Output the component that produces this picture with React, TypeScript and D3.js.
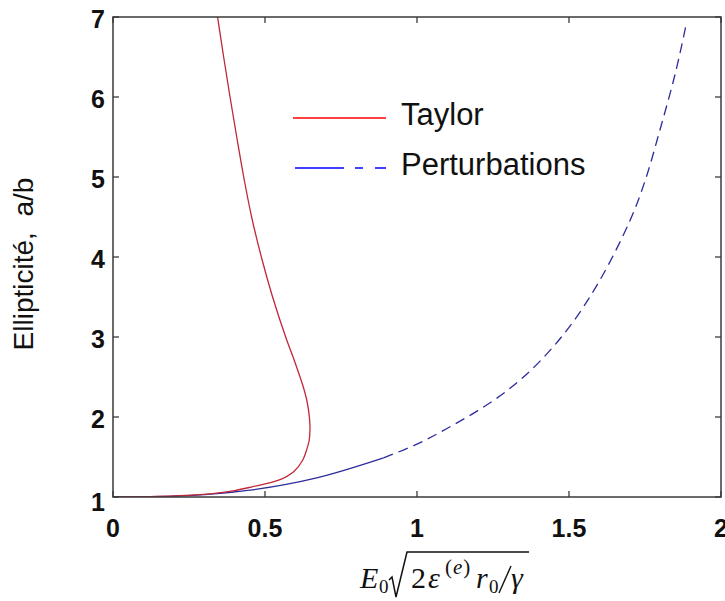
import React from "react";
import * as d3 from "d3";

const taylorX = [0, 0.2, 0.32, 0.4, 0.46, 0.545, 0.595, 0.624, 0.637, 0.645, 0.648, 0.646, 0.638, 0.624, 0.597, 0.568, 0.525, 0.488, 0.456, 0.43, 0.407, 0.385, 0.364, 0.344];
const taylorY = [1, 1.015, 1.04, 1.08, 1.13, 1.21, 1.32, 1.46, 1.59, 1.7, 1.84, 2.0, 2.2, 2.4, 2.7, 3.0, 3.5, 4.0, 4.5, 5.0, 5.5, 6.0, 6.5, 7.0];

const pertX = [0, 0.2, 0.3, 0.45, 0.67, 0.89, 1.0, 1.1, 1.2, 1.3, 1.4, 1.5, 1.6, 1.7, 1.75, 1.8, 1.85, 1.885];
const pertY = [1, 1.01, 1.03, 1.085, 1.24, 1.49, 1.66, 1.86, 2.08, 2.34, 2.68, 3.12, 3.7, 4.45, 4.95, 5.6, 6.3, 6.9];
const pertSolidEnd = 0.89;

const xTicks = [0, 0.5, 1, 1.5, 2];
const xTickLabels = ["0", "0.5", "1", "1.5", "2"];
const yTicks = [1, 2, 3, 4, 5, 6, 7];
const yTickLabels = ["1", "2", "3", "4", "5", "6", "7"];

const seriesNames = ["Taylor", "Perturbations"];

export default function App() {
  const W = 725, H = 601;
  const left = 113, right = 721, top = 17, bottom = 497;
  const x = d3.scaleLinear().domain([0, 2]).range([left, right]);
  const y = d3.scaleLinear().domain([1, 7]).range([bottom, top]);

  const taylorPts = taylorX.map((v, i) => [v, taylorY[i]] as [number, number]);
  const pertPts = pertX.map((v, i) => [v, pertY[i]] as [number, number]);
  const solidPts = pertPts.filter((p) => p[0] <= pertSolidEnd);
  const dashPts = pertPts.filter((p) => p[0] >= pertSolidEnd);

  const line = d3
    .line<[number, number]>()
    .x((d) => x(d[0]))
    .y((d) => y(d[1]))
    .curve(d3.curveCatmullRom.alpha(0.5));

  const tickLen = 6;
  const axisColor = "#3a3a3a";
  const sans = "'Liberation Sans', Arial, sans-serif";
  const serif = "'Liberation Serif', 'Times New Roman', serif";

  return (
    <svg
      width={W}
      height={H}
      style={{ position: "absolute", left: 0, top: 0, background: "#fff" }}
    >
      <rect x={0} y={0} width={W} height={H} fill="#fff" />
      <defs>
        <clipPath id="plotclip">
          <rect x={left} y={top} width={right - left} height={bottom - top} />
        </clipPath>
      </defs>

      {/* curves */}
      <g clipPath="url(#plotclip)" fill="none">
        <path d={line(solidPts) || ""} stroke="#2c2c9c" strokeWidth={1.3} />
        <path d={line(dashPts) || ""} stroke="#2c2c9c" strokeWidth={1.3} strokeDasharray="10,6" />
        <path d={line(taylorPts) || ""} stroke="#c02838" strokeWidth={1.3} />
      </g>

      {/* axes box */}
      <rect x={left} y={top} width={right - left} height={bottom - top} fill="none" stroke={axisColor} strokeWidth={1.5} />

      {/* x ticks */}
      {xTicks.map((t, i) => (
        <g key={"xt" + i}>
          <line x1={x(t)} x2={x(t)} y1={bottom} y2={bottom - tickLen} stroke={axisColor} strokeWidth={1.3} />
          <line x1={x(t)} x2={x(t)} y1={top} y2={top + tickLen} stroke={axisColor} strokeWidth={1.3} />
          <text
            x={x(t)}
            y={537}
            textAnchor="middle"
            fontFamily={sans}
            fontWeight="bold"
            fontSize={25}
            fill="#111"
          >
            {xTickLabels[i]}
          </text>
        </g>
      ))}

      {/* y ticks */}
      {yTicks.map((t, i) => (
        <g key={"yt" + i}>
          <line x1={left} x2={left + tickLen} y1={y(t)} y2={y(t)} stroke={axisColor} strokeWidth={1.3} />
          <line x1={right} x2={right - tickLen} y1={y(t)} y2={y(t)} stroke={axisColor} strokeWidth={1.3} />
          <text
            x={105}
            y={y(t) + (t === 1 ? 14 : 11)}
            textAnchor="end"
            fontFamily={sans}
            fontWeight="bold"
            fontSize={25}
            fill="#111"
          >
            {yTickLabels[i]}
          </text>
        </g>
      ))}

      {/* y label */}
      <text
        transform="translate(33,264) rotate(-90)"
        textAnchor="middle"
        fontFamily={sans}
        fontSize={28}
        fill="#111"
        style={{ whiteSpace: "pre" }}
      >
        {"Ellipticité,  a/b"}
      </text>

      {/* x label formula */}
      <g fontFamily={serif} fill="#111">
        <text x={360} y={588} fontSize={30} fontStyle="italic">E</text>
        <text x={379} y={593} fontSize={19}>0</text>
        <path d="M389,580 L392,577 L396,597 L407,552 L529,552" fill="none" stroke="#111" strokeWidth={1.5} />
        <text x={411} y={588} fontSize={30}>2</text>
        <text x={428} y={588} fontSize={30} fontStyle="italic">ε</text>
        <text x={445} y={574} fontSize={21} letterSpacing={1}>
          (<tspan fontStyle="italic">e</tspan>)
        </text>
        <text x={476} y={588} fontSize={30} fontStyle="italic">r</text>
        <text x={489} y={593} fontSize={19}>0</text>
        <path d="M499,593 L511,566" fill="none" stroke="#111" strokeWidth={1.4} />
        <text x={511} y={588} fontSize={30} fontStyle="italic">γ</text>
      </g>

      {/* legend */}
      <line x1={293} x2={386} y1={118} y2={118} stroke="#ff0000" strokeWidth={1.5} />
      <line x1={295} x2={344} y1={168} y2={168} stroke="#0000ff" strokeWidth={1.5} />
      <line x1={355} x2={363} y1={168} y2={168} stroke="#0000ff" strokeWidth={1.5} />
      <line x1={375} x2={386} y1={168} y2={168} stroke="#0000ff" strokeWidth={1.5} />
      <text x={401} y={125} fontFamily={sans} fontSize={31} fill="#111">{seriesNames[0]}</text>
      <text x={401} y={175} fontFamily={sans} fontSize={31} fill="#111">{seriesNames[1]}</text>
    </svg>
  );
}
